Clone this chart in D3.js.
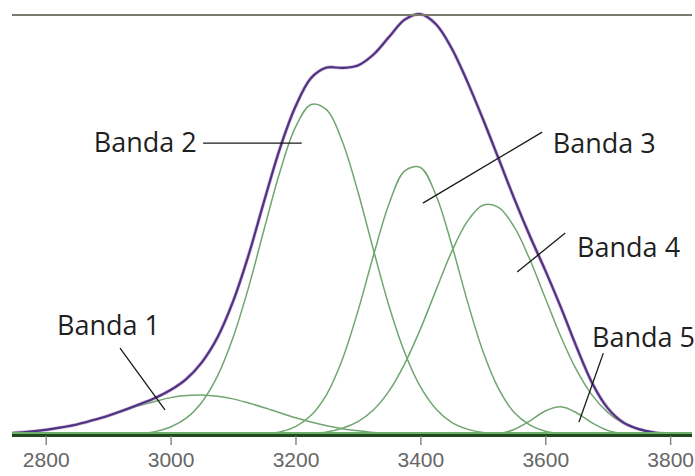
<!DOCTYPE html>
<html>
<head>
<meta charset="utf-8">
<script src="https://cdn.jsdelivr.net/npm/d3@7"></script>
<style>
  body { margin: 0; background: #fff; }
  svg { display: block; }
</style>
</head>
<body>
<svg></svg>
<script>
// wavenumber grid (cm-1) and band values (% of max absorbance)
let wavenumbers = [2725, 2750, 2775, 2800, 2825, 2850, 2875, 2900, 2925, 2950, 2975, 3000, 3025, 3050, 3075, 3100,
  3125, 3150, 3175, 3200, 3225, 3250, 3275, 3300, 3325, 3350, 3375, 3400, 3425, 3450, 3475, 3500,
  3525, 3550, 3575, 3600, 3625, 3650, 3675, 3700, 3725, 3750, 3775, 3800, 3825, 3850]

let banda1 = [0.3, 0.5, 0.8, 1.2, 1.8, 2.5, 3.5, 4.6, 5.8, 7.0, 8.0, 8.9, 9.4, 9.5, 9.2, 8.6,
  7.6, 6.5, 5.3, 4.1, 3.1, 2.2, 1.5, 1.0, 0.6, 0.4, 0.2, 0.1, 0.1, 0, 0, 0,
  0, 0, 0, 0, 0, 0, 0, 0, 0, 0, 0, 0, 0, 0]
let banda2 = [0, 0, 0, 0, 0, 0, 0, 0, 0.1, 0.3, 0.8, 1.9, 4.0, 7.8, 14.0, 23.2,
  35.2, 49.1, 62.6, 73.3, 78.7, 77.4, 69.9, 57.9, 44.0, 30.6, 19.6, 11.5, 6.2, 3.0, 1.4, 0.6,
  0.2, 0.1, 0, 0, 0, 0, 0, 0, 0, 0, 0, 0, 0, 0]
let banda3 = [0, 0, 0, 0, 0, 0, 0, 0, 0, 0, 0, 0, 0, 0, 0, 0,
  0.1, 0.3, 0.7, 2.0, 4.7, 9.7, 18.0, 29.5, 42.8, 55.1, 62.9, 63.7, 57.1, 45.4, 32.0, 20.0,
  11.1, 5.4, 2.4, 0.9, 0.3, 0.1, 0, 0, 0, 0, 0, 0, 0, 0]
let banda4 = [0, 0, 0, 0, 0, 0, 0, 0, 0, 0, 0, 0, 0, 0, 0, 0,
  0, 0, 0, 0.1, 0.3, 0.7, 1.6, 3.2, 6.0, 10.5, 17.0, 25.2, 34.5, 43.6, 50.8, 54.7,
  54.2, 49.6, 41.9, 32.6, 23.4, 15.5, 9.5, 5.4, 2.8, 1.3, 0.6, 0.2, 0.1, 0]
let banda5 = [0, 0, 0, 0, 0, 0, 0, 0, 0, 0, 0, 0, 0, 0, 0, 0,
  0, 0, 0, 0, 0, 0, 0, 0, 0, 0, 0, 0, 0, 0, 0, 0.1,
  0.3, 1.3, 3.3, 5.7, 6.7, 5.3, 2.9, 1.1, 0.3, 0, 0, 0, 0, 0]
let envelope = [0.3, 0.5, 0.8, 1.2, 1.8, 2.5, 3.5, 4.6, 5.9, 7.3, 8.8, 10.7, 13.3, 17.3, 23.2, 31.8,
  42.9, 55.8, 68.2, 78.2, 85.0, 87.5, 87.4, 88.0, 90.6, 94.8, 98.9, 100.2, 97.8, 92.1, 84.2, 75.3,
  65.9, 56.4, 47.5, 39.2, 30.4, 21.0, 12.4, 6.4, 3.0, 1.4, 0.6, 0.2, 0.1, 0]

let bands = [banda1, banda2, banda3, banda4, banda5]

let tickValues = [2800, 3000, 3200, 3400, 3600, 3800]

// annotation text and leader lines, in data units (wavenumber, %)
let labelNames = ['Banda 1', 'Banda 2', 'Banda 3', 'Banda 4', 'Banda 5']
let labelAt = [[2818, 23.8], [2877, 67.4], [3612, 67.1], [3651, 42.4], [3675, 21.0]]
let leaderFrom = [[2919, 20.7], [3052, 69.5], [3595, 72.1], [3632, 48.1], [3693, 19.5]]
let leaderTo = [[2991, 6.0], [3210, 69.5], [3404, 55.2], [3555, 38.8], [3654, 3.1]]

let width = 695
let height = 476
let padLeft = 12
let padRight = 692
let padTop = 15
let padBottom = 435

let svg = d3.select('svg')
svg.attr('width', width).attr('height', height)

let xScale = d3.scaleLinear()
  .domain([2746, 3835])
  .range([padLeft, padRight])

let yScale = d3.scaleLinear()
  .domain([0, 100])
  .range([padBottom, padTop])

svg.append('clipPath')
  .attr('id', 'clip')
  .append('rect')
  .attr('x', padLeft).attr('y', 0)
  .attr('width', padRight - padLeft).attr('height', padBottom + 2)

let line = (values) => {
  return d3.line()
    .x((d, i) => xScale(wavenumbers[i]))
    .y((d) => yScale(d))
    .curve(d3.curveCatmullRom.alpha(0.5))(values)
}

let plot = svg.append('g').attr('clip-path', 'url(#clip)')

// green component bands
plot.selectAll('.band')
  .data(bands)
  .enter()
  .append('path')
  .attr('class', 'band')
  .attr('d', (d) => line(d))
  .attr('fill', 'none')
  .attr('stroke', '#6fa66f')
  .attr('stroke-width', 1.5)

// baseline
svg.append('line')
  .attr('x1', padLeft).attr('x2', padRight)
  .attr('y1', yScale(0) - 2).attr('y2', yScale(0) - 2)
  .attr('stroke', '#6fae6f')
  .attr('stroke-width', 2)
svg.append('line')
  .attr('x1', padLeft).attr('x2', padRight)
  .attr('y1', yScale(0) + 0.5).attr('y2', yScale(0) + 0.5)
  .attr('stroke', '#1e4a1e')
  .attr('stroke-width', 3)

// overall envelope
plot.append('path')
  .attr('d', line(envelope))
  .attr('fill', 'none')
  .attr('stroke', '#b07ab8')
  .attr('stroke-width', 3.6)
  .attr('opacity', 0.5)
plot.append('path')
  .attr('d', line(envelope))
  .attr('fill', 'none')
  .attr('stroke', '#4e3384')
  .attr('stroke-width', 2.2)

// top frame line
svg.append('line')
  .attr('x1', padLeft).attr('x2', padRight)
  .attr('y1', yScale(100)).attr('y2', yScale(100))
  .attr('stroke', '#7b7b6b')
  .attr('stroke-width', 2)

// x axis
let xAxis = d3.axisBottom(xScale)
  .tickValues(tickValues)
  .tickFormat(d3.format('d'))
  .tickSize(9)
  .tickPadding(7)

let axis = svg.append('g')
  .attr('transform', 'translate(0,' + (padBottom + 1) + ')')
  .call(xAxis)
axis.select('.domain').remove()
axis.selectAll('.tick line')
  .attr('stroke', '#888')
  .attr('stroke-width', 1.5)
axis.selectAll('.tick text')
  .attr('fill', '#666')
  .style('font-family', '"Liberation Sans", Arial, sans-serif')
  .style('font-size', '21px')

// annotations
svg.selectAll('.leader')
  .data(labelNames)
  .enter()
  .append('line')
  .attr('class', 'leader')
  .attr('x1', (d, i) => xScale(leaderFrom[i][0]))
  .attr('y1', (d, i) => yScale(leaderFrom[i][1]))
  .attr('x2', (d, i) => xScale(leaderTo[i][0]))
  .attr('y2', (d, i) => yScale(leaderTo[i][1]))
  .attr('stroke', '#1a1a1a')
  .attr('stroke-width', 1.3)

svg.selectAll('.label')
  .data(labelNames)
  .enter()
  .append('text')
  .attr('class', 'label')
  .attr('x', (d, i) => xScale(labelAt[i][0]))
  .attr('y', (d, i) => yScale(labelAt[i][1]))
  .attr('fill', '#1f1f1f')
  .style('font-family', '"Open Sans", sans-serif')
  .style('font-size', '27px')
  .text((d) => d)
</script>
</body>
</html>
